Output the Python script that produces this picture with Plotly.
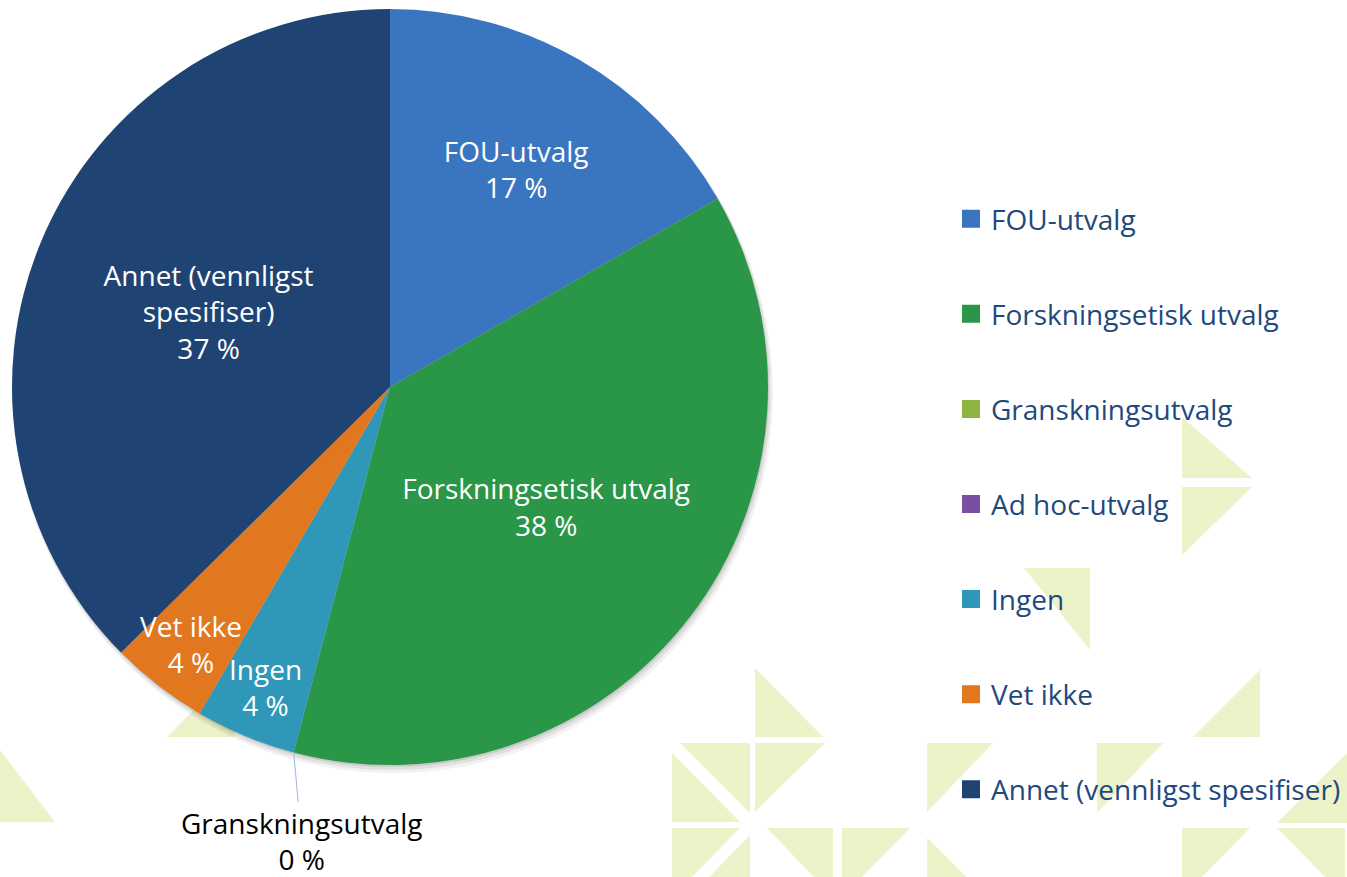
import math
import plotly.graph_objects as go

# ---------------- data ----------------
categories = ["FOU-utvalg", "Forskningsetisk utvalg", "Granskningsutvalg",
              "Ad hoc-utvalg", "Ingen", "Vet ikke", "Annet (vennligst spesifiser)"]
values = [16.7, 37.4, 0.0, 0.0, 4.3, 4.2, 37.4]
pct_labels = ["17 %", "38 %", "0 %", "0 %", "4 %", "4 %", "37 %"]

# ---------------- style ----------------
colors = ["#3A75C0", "#2A9647", "#8DB443", "#7B4FA0", "#2F97B8", "#E1771F", "#1F4474"]
label_mode = ["inside", "inside", "outside", "none", "rim", "rim", "inside"]
wrapped = {"Annet (vennligst spesifiser)": "Annet (vennligst<br>spesifiser)"}
FONT = "Open Sans"
FS = 28
LEGEND_COLOR = "#1F497D"

W, H = 1347, 877
PIE_CX, PIE_CY, PIE_R = 390, 387, 378   # pixel geometry of the pie domain
RIM_FRAC = 0.86

def px(x):
    return x / W

def py(y):
    return 1 - y / H

slice_text = []
for cat, pct, mode in zip(categories, pct_labels, label_mode):
    name = wrapped.get(cat, cat)
    slice_text.append(f"{name}<br>{pct}" if mode == "inside" else "")

fig = go.Figure()
fig.add_trace(go.Pie(
    labels=categories, values=values, sort=False, direction="clockwise", rotation=0,
    marker=dict(colors=colors, line=dict(width=0)),
    text=slice_text, texttemplate="%{text}", textinfo="text",
    textposition=["inside" if m == "inside" else "none" for m in label_mode],
    insidetextorientation="horizontal",
    textfont=dict(family=FONT, size=FS, color="white"),
    domain=dict(x=[px(PIE_CX - PIE_R), px(PIE_CX + PIE_R)],
                y=[py(PIE_CY + PIE_R), py(PIE_CY - PIE_R)]),
    showlegend=False, hoverinfo="label+percent",
))

# legend entries (one group each so they can be spaced like the original)
for cat, col in zip(categories, colors):
    fig.add_trace(go.Scatter(
        x=[None], y=[None], mode="markers", name=cat, legendgroup=cat,
        marker=dict(symbol="square", size=16, color=col, line=dict(width=2, color=col)),
        showlegend=True, hoverinfo="skip",
    ))

# labels placed from the slice angles
total = sum(values)
annotations = []
cum = 0.0
for cat, v, pct, mode in zip(categories, values, pct_labels, label_mode):
    a0 = cum / total * 2 * math.pi
    a1 = (cum + v) / total * 2 * math.pi
    cum += v
    mid = (a0 + a1) / 2
    if mode == "rim":
        xr = PIE_CX + RIM_FRAC * PIE_R * math.sin(mid)
        yr = PIE_CY - RIM_FRAC * PIE_R * math.cos(mid)
        annotations.append(dict(
            x=px(xr), y=py(yr), xref="paper", yref="paper", showarrow=False,
            xanchor="center", yanchor="middle",
            text=f"{wrapped.get(cat, cat)}<br>{pct}",
            font=dict(family=FONT, size=FS, color="white"), align="center"))
    elif mode == "outside":
        xe = PIE_CX + PIE_R * math.sin(mid)
        ye = PIE_CY - PIE_R * math.cos(mid)
        annotations.append(dict(
            x=px(xe), y=py(ye), xref="paper", yref="paper", showarrow=True,
            ax=8, ay=88, arrowhead=0, arrowwidth=1, arrowcolor="#9BB7DF", standoff=0,
            text=f"{cat}<br>{pct}",
            font=dict(family=FONT, size=FS, color="black"), align="center"))

# faint decorative background triangles (pixel coords)
bg_triangles = [
    [(755, 668), (755, 737), (823, 737)], [(755, 743), (825, 743), (755, 812)],
    [(680, 743), (750, 743), (750, 813)], [(672, 753), (672, 822), (740, 822)],
    [(672, 828), (740, 828), (672, 897)], [(750, 835), (750, 905), (682, 905)],
    [(767, 828), (833, 828), (833, 897)], [(842, 828), (910, 828), (842, 897)],
    [(927, 743), (993, 743), (927, 812)], [(927, 838), (927, 905), (995, 905)],
    [(1260, 670), (1260, 737), (1193, 737)], [(1097, 743), (1163, 743), (1097, 813)],
    [(1347, 753), (1347, 823), (1277, 823)], [(1182, 828), (1250, 828), (1182, 897)],
    [(1277, 828), (1345, 828), (1345, 897)], [(1182, 417), (1182, 478), (1252, 478)],
    [(1182, 487), (1252, 487), (1182, 555)], [(0, 750), (0, 822), (55, 822)],
    [(235, 668), (235, 737), (167, 737)], [(1024, 568), (1090, 568), (1090, 650)],
]
shapes = []
for tri in bg_triangles:
    path = "M " + " L ".join(f"{px(x):.5f},{py(y):.5f}" for x, y in tri) + " Z"
    shapes.append(dict(type="path", path=path, xref="paper", yref="paper",
                       fillcolor="#EDF2C9", line=dict(width=0), layer="below"))

# soft drop shadow under the pie
for off, grow, alpha in [(6, 2, 0.05), (4, 1, 0.07), (2, 0, 0.10)]:
    shapes.append(dict(type="circle", xref="paper", yref="paper",
                       x0=px(PIE_CX - PIE_R - grow + off * 0.5), x1=px(PIE_CX + PIE_R + grow + off * 0.5),
                       y0=py(PIE_CY + PIE_R + grow + off), y1=py(PIE_CY - PIE_R - grow + off),
                       fillcolor=f"rgba(0,0,0,{alpha})", line=dict(width=0), layer="below"))

fig.update_layout(
    width=W, height=H, margin=dict(l=0, r=0, t=0, b=0),
    paper_bgcolor="white", plot_bgcolor="rgba(0,0,0,0)",
    xaxis=dict(visible=False), yaxis=dict(visible=False),
    font=dict(family=FONT, size=FS),
    legend=dict(x=px(951), y=py(194), xanchor="left", yanchor="top",
                font=dict(family=FONT, size=FS, color=LEGEND_COLOR),
                tracegroupgap=55.7, bgcolor="rgba(0,0,0,0)", itemwidth=30),
    annotations=annotations, shapes=shapes,
)

fig.write_html("out.html", config={"displayModeBar": False},
               post_script="document.body.style.margin='0';document.body.style.overflow='hidden';")
